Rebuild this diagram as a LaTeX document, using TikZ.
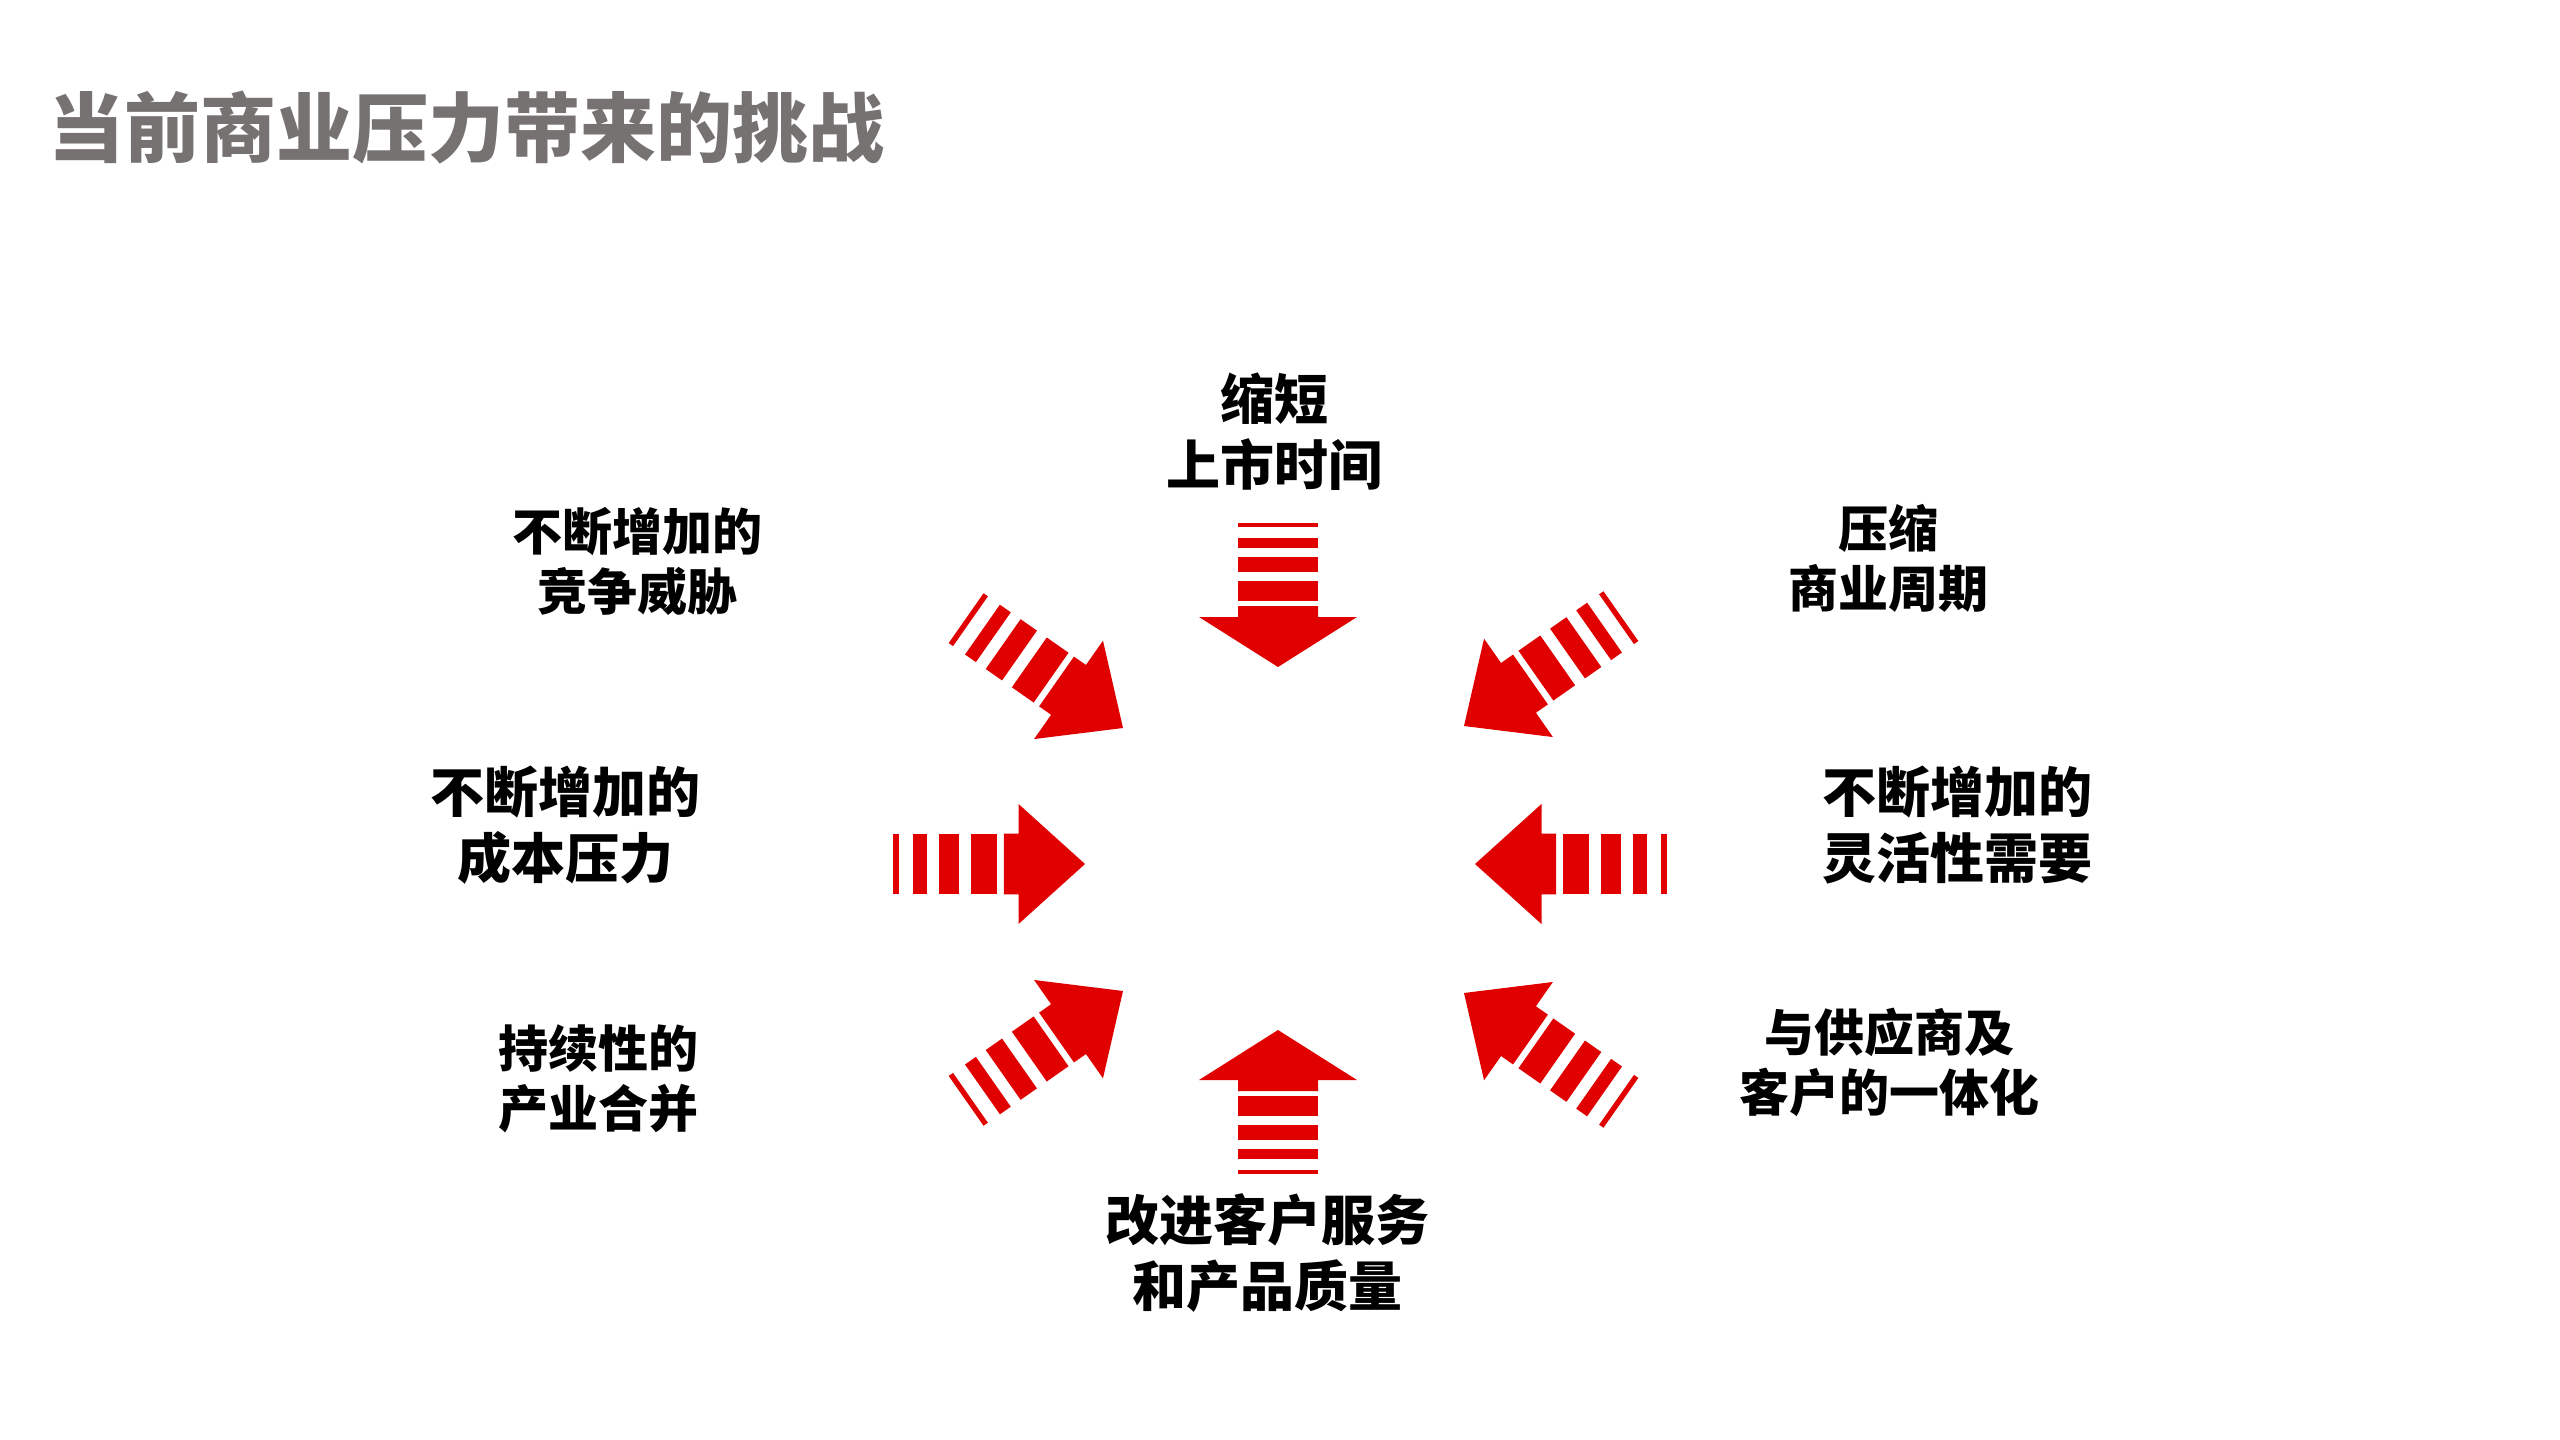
\documentclass[tikz,border=0pt]{standalone}
\usepackage{fontspec}
\setmainfont{Noto Sans CJK SC}
\definecolor{ared}{RGB}{224,0,0}
\definecolor{tgray}{RGB}{118,114,113}
\tikzset{
  stripearrow/.pic={
    \fill[ared] (0,0) -- (-50,79) -- (-50,40) -- (-61,40) -- (-61,-40) -- (-50,-40) -- (-50,-79) -- cycle;
    \fill[ared] (-86,-40) rectangle (-66,40);
    \fill[ared] (-110,-40) rectangle (-95,40);
    \fill[ared] (-129,-40) rectangle (-119,40);
    \fill[ared] (-144,-40) rectangle (-140,40);
  },
  lbl/.style 2 args={align=center, font=\fontsize{#1}{#2}\selectfont\bfseries, text=black, inner sep=0pt},
  wide/.style={xscale=1.33, yscale=0.76}
}
\begin{document}
\begin{tikzpicture}[x=1pt,y=-1pt]
\useasboundingbox (0,0) rectangle (2560,1440);
\node[anchor=west, text=tgray, font=\fontsize{76}{90}\selectfont\bfseries, inner sep=0pt] (title) at (48,128) {当前商业压力带来的挑战};

\pic (ta) at (1278,667) [rotate=-90] {stripearrow};
\pic (ba) at (1278,1030) [rotate=90] {stripearrow};
\pic (la) at (1085,864) [wide] {stripearrow};
\pic (ra) at (1475,864) [rotate=180, wide] {stripearrow};
\pic (tla) at (1123,728) [rotate=-35, wide] {stripearrow};
\pic (tra) at (1464,726) [rotate=-145, wide] {stripearrow};
\pic (bla) at (1123,991) [rotate=35, wide] {stripearrow};
\pic (bra) at (1464,993) [rotate=145, wide] {stripearrow};

\node[lbl={54}{66}] (t) at (1274,432) {缩短\\上市时间};
\node[lbl={50}{60}] (tl) at (637,561) {不断增加的\\竞争威胁};
\node[lbl={50}{60}] (tr) at (1888,558) {压缩\\商业周期};
\node[lbl={54}{66}] (l) at (565,825) {不断增加的\\成本压力};
\node[lbl={54}{66}] (r) at (1957,825) {不断增加的\\灵活性需要};
\node[lbl={50}{60}] (bl) at (598,1079) {持续性的\\产业合并};
\node[lbl={50}{60}] (br) at (1889,1062) {与供应商及\\客户的一体化};
\node[lbl={54}{66}] (b) at (1267,1253) {改进客户服务\\和产品质量};
\end{tikzpicture}
\end{document}
